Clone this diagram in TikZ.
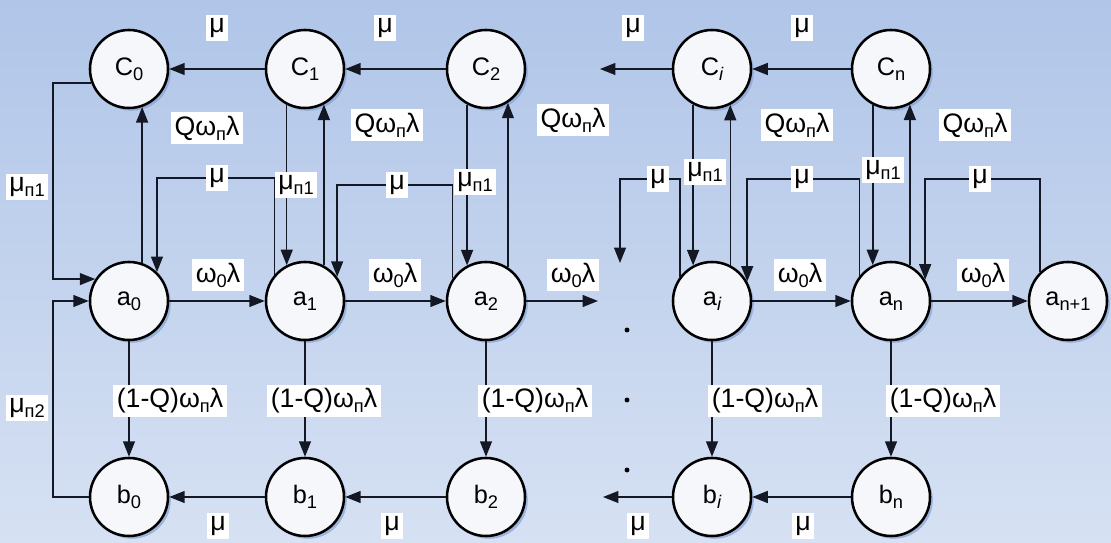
\documentclass[tikz,border=0pt]{standalone}
\usepackage{fontspec}
\setmainfont{Liberation Sans}
\usetikzlibrary{arrows.meta,shadows,calc}
\definecolor{bgtop}{RGB}{176,197,232}
\definecolor{bgbot}{RGB}{214,225,243}
\definecolor{linec}{RGB}{20,24,36}
\definecolor{shadowc}{RGB}{135,162,212}
\definecolor{nodefill}{RGB}{246,247,250}
\newcommand\subx[1]{\raisebox{-3.5pt}{\fontsize{13}{13}\selectfont #1}}
\newcommand\lblfont{\fontsize{19}{22}\selectfont}
\newcommand\stfont{\fontsize{18}{21}\selectfont}
\begin{document}
\begin{tikzpicture}[x=0.025cm,y=-0.025cm,
 stn/.style={circle, draw=black, line width=1.8pt, fill=nodefill, minimum size=1.95cm, inner sep=0pt, font=\stfont,
   drop shadow={shadow xshift=2pt, shadow yshift=-2pt, fill=shadowc, opacity=0.7}},
 edg/.style={draw=linec, line width=1.1pt, -{Triangle[length=11pt,width=8.5pt]}},
 lbl/.style={fill=white, inner sep=2.5pt, font=\lblfont, text=black},
 dotm/.style={circle, fill=black, inner sep=0pt, minimum size=3.5pt}]
\useasboundingbox (0,0) rectangle (1111,543);
\shade[top color=bgtop, bottom color=bgbot] (0,0) rectangle (1111,543);

% nodes
\node[stn] (C0) at (129,69) {C\subx{0}};
\node[stn] (C1) at (305,69) {C\subx{1}};
\node[stn] (C2) at (486,69) {C\subx{2}};
\node[stn] (Ci) at (712,69) {C\subx{\itshape i}};
\node[stn] (Cn) at (891,69) {C\subx{n}};
\node[stn] (a0) at (129,301) {a\subx{0}};
\node[stn] (a1) at (305,301) {a\subx{1}};
\node[stn] (a2) at (486,301) {a\subx{2}};
\node[stn] (ai) at (712,301) {a\subx{\itshape i}};
\node[stn] (an) at (891,301) {a\subx{n}};
\node[stn] (an1) at (1068,301) {a\subx{n+1}};
\node[stn] (b0) at (129,497) {b\subx{0}};
\node[stn] (b1) at (305,497) {b\subx{1}};
\node[stn] (b2) at (486,497) {b\subx{2}};
\node[stn] (bi) at (712,497) {b\subx{\itshape i}};
\node[stn] (bn) at (891,497) {b\subx{n}};

% free ends and guide coordinates
\coordinate (cstub) at (600,69);
\coordinate (astub) at (598,301);
\coordinate (bstub) at (603,497);
\coordinate (lstub) at (620,263);
\coordinate (L) at (53,0);
\coordinate (Y01) at (0,178);
\coordinate (Y12) at (0,185);
\coordinate (Yi) at (0,179);

% C row
\draw[edg] (C1) -- (C0) node[lbl] at (217,28) {μ};
\draw[edg] (C2) -- (C1) node[lbl] at (385,28) {μ};
\draw[edg] (Ci) -- (cstub) node[lbl] at (633,28) {μ};
\draw[edg] (Cn) -- (Ci) node[lbl] at (802,28) {μ};

% a -> C
\draw[edg] (a0.71) -- (C0.-71) node[lbl] at (207,128) {Qω\subx{п}λ};
\draw[edg] (a1.62) -- (C1.-62) node[lbl] at (387,125) {Qω\subx{п}λ};
\draw[edg] (a2.57) -- (C2.-57) node[lbl] at (573,120) {Qω\subx{п}λ};
\draw[edg] (ai.63) -- (Ci.-63) node[lbl] at (797,125) {Qω\subx{п}λ};
\draw[edg] (an.62) -- (Cn.-62) node[lbl] at (975,125) {Qω\subx{п}λ};

% C -> a
\draw[edg] (C1.-117) -- (a1.117) node[lbl] at (296,185) {μ\subx{п1}};
\draw[edg] (C2.-118) -- (a2.118) node[lbl] at (475,182) {μ\subx{п1}};
\draw[edg] (Ci.-118) -- (ai.118) node[lbl] at (705,172) {μ\subx{п1}};
\draw[edg] (Cn.-117) -- (an.117) node[lbl] at (883,170) {μ\subx{п1}};

% left returns
\draw[edg] (C0.200) -| (L |- a0.147) -- (a0.147) node[lbl] at (27,187) {μ\subx{п1}};
\draw[edg] (b0.west) -| (L |- a0.west) -- (a0.west) node[lbl] at (27,408) {μ\subx{п2}};

% mu loops
\draw[edg] (a1.139) |- (a0.46 |- Y01) -- (a0.46) node[lbl] at (217,178) {μ};
\draw[edg] (a2.146) |- (a1.37 |- Y12) -- (a1.37) node[lbl] at (397,185) {μ};
\draw[edg] (ai.143) |- (lstub |- Yi) -- (lstub) node[lbl] at (658,179) {μ};
\draw[edg] (an.141) |- (ai.29 |- Yi) -- (ai.29) node[lbl] at (802,179) {μ};
\draw[edg] (an1.134) |- (an.32 |- Yi) -- (an.32) node[lbl] at (980,179) {μ};

% a row
\draw[edg] (a0) -- (a1) node[lbl] at (218,275) {ω\subx{0}λ};
\draw[edg] (a1) -- (a2) node[lbl] at (395,275) {ω\subx{0}λ};
\draw[edg] (a2) -- (astub) node[lbl] at (573,275) {ω\subx{0}λ};
\draw[edg] (ai) -- (an) node[lbl] at (800,275) {ω\subx{0}λ};
\draw[edg] (an) -- (an1) node[lbl] at (983,275) {ω\subx{0}λ};

% a -> b
\draw[edg] (a0) -- (b0) node[lbl] at (170,401) {(1-Q)ω\subx{п}λ};
\draw[edg] (a1) -- (b1) node[lbl] at (324,401) {(1-Q)ω\subx{п}λ};
\draw[edg] (a2) -- (b2) node[lbl] at (535,401) {(1-Q)ω\subx{п}λ};
\draw[edg] (ai) -- (bi) node[lbl] at (765,401) {(1-Q)ω\subx{п}λ};
\draw[edg] (an) -- (bn) node[lbl] at (943,401) {(1-Q)ω\subx{п}λ};

% b row
\draw[edg] (b1) -- (b0) node[lbl] at (218,526) {μ};
\draw[edg] (b2) -- (b1) node[lbl] at (392,526) {μ};
\draw[edg] (bi) -- (bstub) node[lbl] at (638,526) {μ};
\draw[edg] (bn) -- (bi) node[lbl] at (803,526) {μ};

% ellipsis dots
\node[dotm] (d1) at (627,330) {};
\node[dotm] (d2) at (627,400) {};
\node[dotm] (d3) at (627,470) {};
\end{tikzpicture}
\end{document}
